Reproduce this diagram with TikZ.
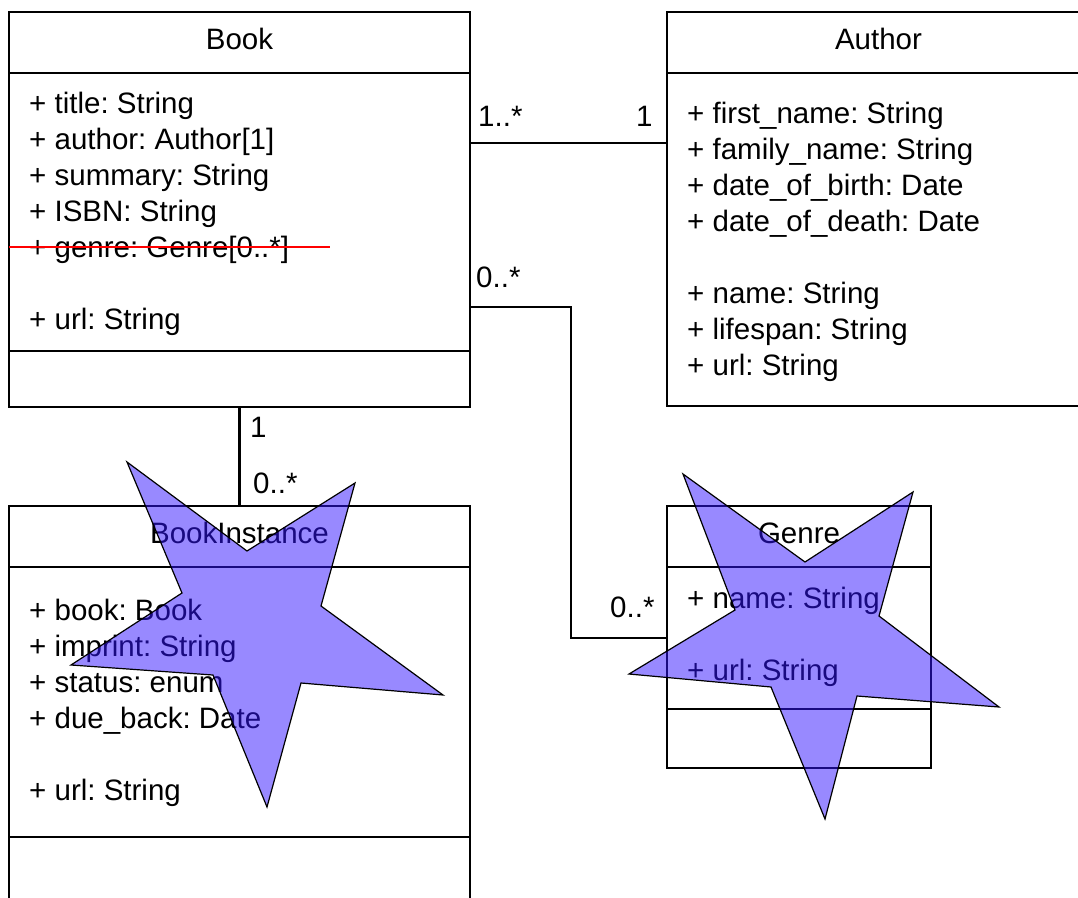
\documentclass[tikz,border=0pt]{standalone}
\usepackage{fontspec}
\setmainfont{Liberation Sans}
\usepackage{tikz}
\usetikzlibrary{positioning}
\definecolor{starblue}{RGB}{50,20,255}
\frenchspacing
\tikzset{
  box/.style = {rectangle, draw=black, line width=2.7pt, inner sep=0pt,
    outer sep=0pt},
  head/.style = {box, minimum height=61pt, text depth=7pt,
    font=\fontsize{29.5}{36}\selectfont},% class name compartment
  attr/.style = {anchor=base west, inner sep=0pt,
    font=\fontsize{29.5}{36}\selectfont},% one attribute line
  mult/.style = {attr},% multiplicity at a connector end
  assoc/.style = {draw=black, line width=2.7pt},
  overstar/.style = {draw=black, line width=1.2pt, fill=starblue,
    fill opacity=0.5}% star pasted over the diagram
}

\begin{document}
\begin{tikzpicture}[x=1pt, y=-1pt]
  \useasboundingbox (0,0) rectangle (1078,897);
  \clip (0,0) rectangle (1078,897);
  \fill[white] (0,0) rectangle (1078,897);

  % Book
  \node[head, minimum width=461pt, anchor=north west] (book) at (9,12) {Book};
  \node[box, minimum width=461pt, minimum height=278pt, anchor=north]
    (book-attr) at (book.south) {};
  \node[box, minimum width=461pt, minimum height=56pt, anchor=north]
    (book-ops) at (book-attr.south) {};
  \foreach \y/\txt [count=\i] in {113/{+ title: String},
      149/{+ author: Author[1]}, 185/{+ summary: String},
      221/{+ ISBN: String}, 257/{+ genre: Genre[0..*]}, 329/{+ url: String}}
    \node[attr] (book-a\i) at (29,\y) {\txt};
  \draw[red, line width=1.3pt] (book-attr.west |- 0,247) -- +(321,0);

  % Author
  \node[head, minimum width=423pt, anchor=north west] (author) at (667,12) {Author};
  \node[box, minimum width=423pt, minimum height=333pt, anchor=north]
    (author-attr) at (author.south) {};
  \foreach \y/\txt [count=\i] in {123/{+ first\_name: String},
      159/{+ family\_name: String}, 195/{+ date\_of\_birth: Date},
      231/{+ date\_of\_death: Date}, 303/{+ name: String},
      339/{+ lifespan: String}, 375/{+ url: String}}
    \node[attr] (author-a\i) at (687,\y) {\txt};

  % BookInstance
  \node[head, minimum width=461pt, anchor=north west] (binst) at (9,506) {BookInstance};
  \node[box, minimum width=461pt, minimum height=270pt, anchor=north]
    (binst-attr) at (binst.south) {};
  \node[box, minimum width=461pt, minimum height=70pt, anchor=north]
    (binst-ops) at (binst-attr.south) {};
  \foreach \y/\txt [count=\i] in {620/{+ book: Book},
      656/{+ imprint: String}, 692/{+ status: enum},
      728/{+ due\_back: Date}, 800/{+ url: String}}
    \node[attr] (binst-a\i) at (29,\y) {\txt};

  % Genre
  \node[head, minimum width=264pt, anchor=north west] (genre) at (667,506) {Genre};
  \node[box, minimum width=264pt, minimum height=142pt, anchor=north]
    (genre-attr) at (genre.south) {};
  \node[box, minimum width=264pt, minimum height=59pt, anchor=north]
    (genre-ops) at (genre-attr.south) {};
  \node[attr] (genre-a1) at (687,608) {+ name: String};
  \node[attr] (genre-a2) at (687,680) {+ url: String};

  % associations
  \coordinate (ba) at (book-attr.east |- 0,143);
  \draw[assoc] (ba) -- (ba -| author-attr.west);
  \coordinate (bg) at (book-attr.east |- 0,307);
  \coordinate (gb) at (genre-attr.west |- 0,638);
  \draw[assoc] (bg) -- ++(101,0) |- (gb);
  \draw[assoc] (book-ops.south) -- (binst.north);

  \node[mult] (m-ba) at (478,126) {1..*};
  \node[mult] (m-ab) at (636,126) {1};
  \node[mult] (m-bg) at (476,287) {0..*};
  \node[mult] (m-gb) at (610,617) {0..*};
  \node[mult] (m-bb) at (250,437) {1};
  \node[mult] (m-bi) at (253,493) {0..*};

  % stars
  \draw[overstar] (127,462) -- (247,551) -- (355,483) -- (321,606) -- (443,695)
    -- (301,683) -- (267,807) -- (213,675) -- (71,665) -- (182,593) -- cycle;
  \draw[overstar] (683,474) -- (805,562) -- (913,492) -- (879,616) -- (999,707)
    -- (857,696) -- (825,819) -- (771,687) -- (629,674) -- (735,610) -- cycle;
\end{tikzpicture}
\end{document}
